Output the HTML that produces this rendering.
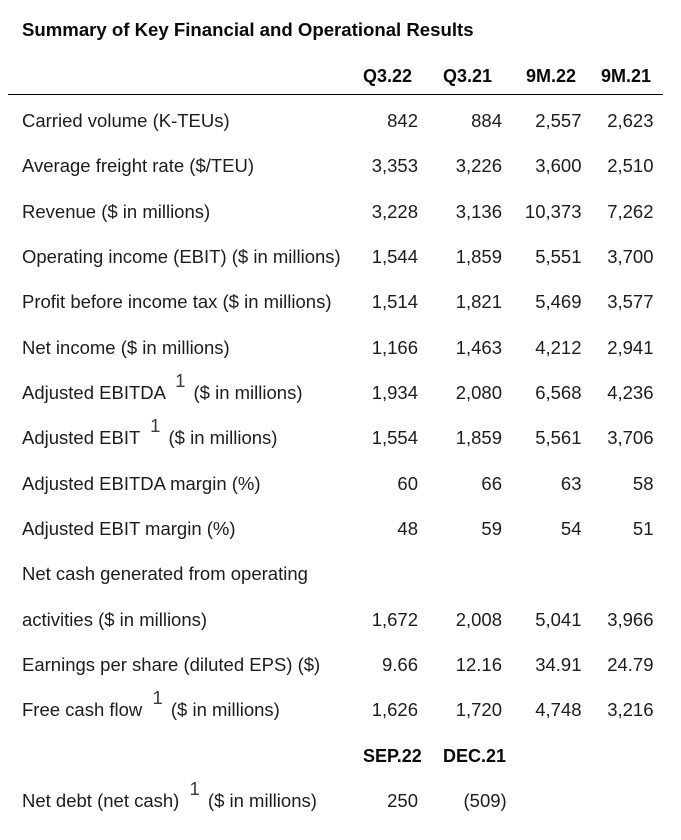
<!DOCTYPE html>
<html>
<head>
<meta charset="utf-8">
<style>
  html,body{margin:0;padding:0;background:#fff;}
  body{width:681px;height:840px;position:relative;overflow:hidden;
       font-family:"Liberation Sans",Arial,sans-serif;color:#1c1c1c;}
  .t{position:absolute;left:22px;top:19.6px;font-size:18.6px;line-height:20px;font-weight:bold;color:#0a0a0a;white-space:nowrap;}
  .r{position:absolute;left:0;width:681px;height:20px;line-height:20px;font-size:18.5px;}
  .r span{position:absolute;top:0;white-space:nowrap;}
  .l{left:22px;}
  .c1{right:263px;}
  .c2{right:179px;}
  .c3{right:99.5px;}
  .c4{right:27.5px;}
  .hb{font-weight:bold;font-size:18px;color:#0a0a0a;}
  .h1{left:363px;} .h2{left:443px;} .h3{left:526px;} .h4{left:601px;}
  sup.s{position:relative;top:-12px;font-size:18.5px;vertical-align:baseline;color:#3a3a3a;margin:0 3px 0 5px;line-height:0;font-weight:normal;}
  .line{position:absolute;left:8px;top:94px;width:655px;height:1.4px;background:#000;}
</style>
</head>
<body>
<div class="t">Summary of Key Financial and Operational Results</div>

<div class="r hb" style="top:65.7px"><span class="h1">Q3.22</span><span class="h2">Q3.21</span><span class="h3">9M.22</span><span class="h4">9M.21</span></div>
<div class="line"></div>

<div class="r" style="top:110.9px"><span class="l">Carried volume (K-TEUs)</span><span class="c1">842</span><span class="c2">884</span><span class="c3">2,557</span><span class="c4">2,623</span></div>
<div class="r" style="top:156.2px"><span class="l">Average freight rate ($/TEU)</span><span class="c1">3,353</span><span class="c2">3,226</span><span class="c3">3,600</span><span class="c4">2,510</span></div>
<div class="r" style="top:201.6px"><span class="l">Revenue ($ in millions)</span><span class="c1">3,228</span><span class="c2">3,136</span><span class="c3">10,373</span><span class="c4">7,262</span></div>
<div class="r" style="top:246.9px"><span class="l">Operating income (EBIT) ($ in millions)</span><span class="c1">1,544</span><span class="c2">1,859</span><span class="c3">5,551</span><span class="c4">3,700</span></div>
<div class="r" style="top:292.3px"><span class="l">Profit before income tax ($ in millions)</span><span class="c1">1,514</span><span class="c2">1,821</span><span class="c3">5,469</span><span class="c4">3,577</span></div>
<div class="r" style="top:337.6px"><span class="l">Net income ($ in millions)</span><span class="c1">1,166</span><span class="c2">1,463</span><span class="c3">4,212</span><span class="c4">2,941</span></div>
<div class="r" style="top:383.0px"><span class="l">Adjusted EBITDA <sup class="s">1</sup> ($ in millions)</span><span class="c1">1,934</span><span class="c2">2,080</span><span class="c3">6,568</span><span class="c4">4,236</span></div>
<div class="r" style="top:428.3px"><span class="l">Adjusted EBIT <sup class="s">1</sup> ($ in millions)</span><span class="c1">1,554</span><span class="c2">1,859</span><span class="c3">5,561</span><span class="c4">3,706</span></div>
<div class="r" style="top:473.7px"><span class="l">Adjusted EBITDA margin (%)</span><span class="c1">60</span><span class="c2">66</span><span class="c3">63</span><span class="c4">58</span></div>
<div class="r" style="top:519.0px"><span class="l">Adjusted EBIT margin (%)</span><span class="c1">48</span><span class="c2">59</span><span class="c3">54</span><span class="c4">51</span></div>
<div class="r" style="top:564.4px"><span class="l">Net cash generated from operating</span></div>
<div class="r" style="top:609.7px"><span class="l">activities ($ in millions)</span><span class="c1">1,672</span><span class="c2">2,008</span><span class="c3">5,041</span><span class="c4">3,966</span></div>
<div class="r" style="top:655.1px"><span class="l">Earnings per share (diluted EPS) ($)</span><span class="c1">9.66</span><span class="c2">12.16</span><span class="c3">34.91</span><span class="c4">24.79</span></div>
<div class="r" style="top:700.4px"><span class="l">Free cash flow <sup class="s">1</sup> ($ in millions)</span><span class="c1">1,626</span><span class="c2">1,720</span><span class="c3">4,748</span><span class="c4">3,216</span></div>

<div class="r hb" style="top:746.0px"><span class="h1">SEP.22</span><span class="h2">DEC.21</span></div>

<div class="r" style="top:791.1px"><span class="l">Net debt (net cash) <sup class="s">1</sup> ($ in millions)</span><span class="c1">250</span><span style="right:174.3px">(509)</span></div>
</body>
</html>
